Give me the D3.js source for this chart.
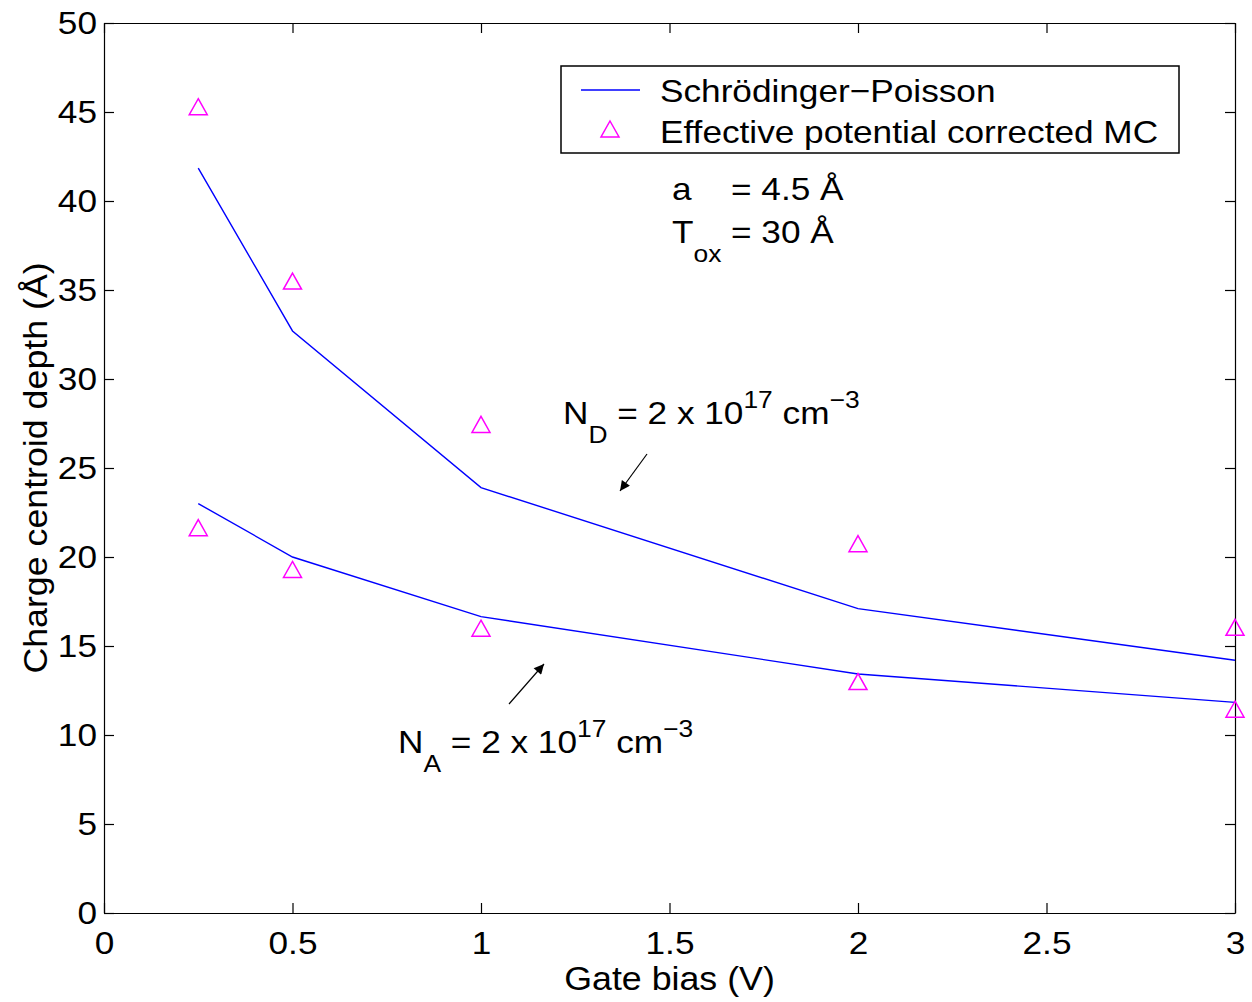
<!DOCTYPE html>
<html>
<head>
<meta charset="utf-8">
<script src="https://cdn.jsdelivr.net/npm/d3@7"></script>
<style>
  html, body { margin: 0; padding: 0; background: #fff; }
  svg { display: block; }
  text { font-family: "Liberation Sans", Arial, Helvetica, sans-serif; fill: #000; }
</style>
</head>
<body>
<svg id="chart" width="1252" height="1002"></svg>
<script>
// Gate bias (V)
const gateBias = [0.25, 0.5, 1, 2, 3];
// Schrödinger–Poisson charge centroid depth (Å)
const spDonor    = [41.85, 32.7, 23.9, 17.1, 14.2];
const spAcceptor = [23.0, 20.0, 16.65, 13.43, 11.83];
// Effective potential corrected Monte Carlo (Å)
const mcDonor    = [45.3, 35.5, 27.45, 20.75, 16.05];
const mcAcceptor = [21.65, 19.3, 16.0, 13.0, 11.45];

const xTicks = [0, 0.5, 1, 1.5, 2, 2.5, 3];
const yTicks = [0, 5, 10, 15, 20, 25, 30, 35, 40, 45, 50];

const svg = d3.select("#chart");
const plot = { left: 104, right: 1235, top: 23, bottom: 913 };

const x = d3.scaleLinear().domain([0, 3]).range([plot.left, plot.right]);
const y = d3.scaleLinear().domain([0, 50]).range([plot.bottom, plot.top]);

const font = 32;      // main text size
const subFont = 24;   // sub/superscript size
const sx = 1.1;       // horizontal widening of the Helvetica-like face
const tick = 10;

// place a text element at (px,py) with a widened glyph shape
function wideText(px, py, size) {
  return svg.append("text")
    .attr("transform", `translate(${px},${py}) scale(${sx},1)`)
    .attr("font-size", size);
}

function styleAxis(g) {
  g.select(".domain").attr("stroke", "#000").attr("stroke-width", 1.2);
  g.selectAll(".tick line").attr("stroke", "#000").attr("stroke-width", 1.2);
  g.selectAll("text").attr("font-size", font).attr("fill", "#000")
    .style("font-family", '"Liberation Sans", Arial, sans-serif');
}

// bottom axis
svg.append("g")
  .attr("transform", `translate(0,${plot.bottom})`)
  .call(d3.axisBottom(x).tickValues(xTicks).tickFormat(d3.format("")).tickSize(-tick).tickPadding(18).tickSizeOuter(0))
  .call(styleAxis)
  .call(g => g.selectAll(".tick text").attr("transform", `scale(${sx},1)`));
// top axis (ticks only)
svg.append("g")
  .attr("transform", `translate(0,${plot.top})`)
  .call(d3.axisTop(x).tickValues(xTicks).tickFormat("").tickSize(-tick).tickSizeOuter(0))
  .call(styleAxis);
// left axis
svg.append("g")
  .attr("transform", `translate(${plot.left},0)`)
  .call(d3.axisLeft(y).tickValues(yTicks).tickFormat(d3.format("")).tickSize(-tick).tickPadding(7).tickSizeOuter(0))
  .call(styleAxis)
  .call(g => g.selectAll(".tick text").attr("x", -7 / sx).attr("transform", `scale(${sx},1)`));
// right axis (ticks only)
svg.append("g")
  .attr("transform", `translate(${plot.right},0)`)
  .call(d3.axisRight(y).tickValues(yTicks).tickFormat("").tickSize(-tick).tickSizeOuter(0))
  .call(styleAxis);

// axis titles
wideText((plot.left + plot.right) / 2, 990, 32.5)
  .attr("text-anchor", "middle").text("Gate bias (V)");
svg.append("text")
  .attr("transform", `translate(47,${(plot.top + plot.bottom) / 2}) rotate(-90) scale(${sx},1)`)
  .attr("text-anchor", "middle").attr("font-size", 32.5)
  .text("Charge centroid depth (Å)");

// series
const line = d3.line().x((d, i) => x(gateBias[i])).y(d => y(d));
// upward triangle outline centred on its bounding box
const triW = 18, triH = 16;
const triPath = `M0,${-triH / 2}L${triW / 2},${triH / 2}L${-triW / 2},${triH / 2}Z`;

[spDonor, spAcceptor].forEach(s => {
  svg.append("path").datum(s)
    .attr("d", line).attr("fill", "none")
    .attr("stroke", "#0000ff").attr("stroke-width", 1.4);
});

[mcDonor, mcAcceptor].forEach(s => {
  svg.append("g").selectAll("path").data(s).join("path")
    .attr("d", triPath)
    .attr("transform", (d, i) => `translate(${x(gateBias[i])},${y(d)})`)
    .attr("fill", "none").attr("stroke", "#ff00ff").attr("stroke-width", 1.5);
});

// legend
const lg = svg.append("g");
lg.append("rect").attr("x", 561).attr("y", 66).attr("width", 618).attr("height", 87)
  .attr("fill", "#fff").attr("stroke", "#000").attr("stroke-width", 1.5);
lg.append("line").attr("x1", 581).attr("x2", 640).attr("y1", 90).attr("y2", 90)
  .attr("stroke", "#0000ff").attr("stroke-width", 1.4);
lg.append("path").attr("d", triPath).attr("transform", "translate(610,129)")
  .attr("fill", "none").attr("stroke", "#ff00ff").attr("stroke-width", 1.5);
wideText(660, 102, font).text("Schrödinger−Poisson");
wideText(660, 143, font).text("Effective potential corrected MC");

// parameter annotations
wideText(672, 200, font).text("a");
wideText(731, 200, font).text("= 4.5 Å");
const tox = wideText(672, 243, font);
tox.append("tspan").text("T");
tox.append("tspan").attr("font-size", subFont).attr("dy", 19).text("ox");
wideText(731, 243, font).text("= 30 Å");

// doping labels with sub/superscripts
function dopingLabel(xp, yp, sub) {
  const t = wideText(xp, yp, font);
  t.append("tspan").text("N");
  t.append("tspan").attr("font-size", subFont).attr("dy", 19).text(sub);
  t.append("tspan").attr("dy", -19).text(" = 2 x 10");
  t.append("tspan").attr("font-size", subFont).attr("dy", -16).text("17");
  t.append("tspan").attr("dy", 16).text(" cm");
  t.append("tspan").attr("font-size", subFont).attr("dy", -16).text("−3");
}
dopingLabel(563, 424, "D");
dopingLabel(398, 753, "A");

// arrows
svg.append("defs").append("marker")
  .attr("id", "arrowhead").attr("viewBox", "0 0 10 10")
  .attr("refX", 10).attr("refY", 5)
  .attr("markerWidth", 14).attr("markerHeight", 10)
  .attr("markerUnits", "userSpaceOnUse").attr("orient", "auto")
  .append("path").attr("d", "M0,0 L10,5 L0,10 Z").attr("fill", "#000");
svg.append("line").attr("x1", 647).attr("y1", 454).attr("x2", 620).attr("y2", 491)
  .attr("stroke", "#000").attr("stroke-width", 1.2).attr("marker-end", "url(#arrowhead)");
svg.append("line").attr("x1", 509).attr("y1", 704).attr("x2", 544).attr("y2", 664)
  .attr("stroke", "#000").attr("stroke-width", 1.2).attr("marker-end", "url(#arrowhead)");
</script>
</body>
</html>
